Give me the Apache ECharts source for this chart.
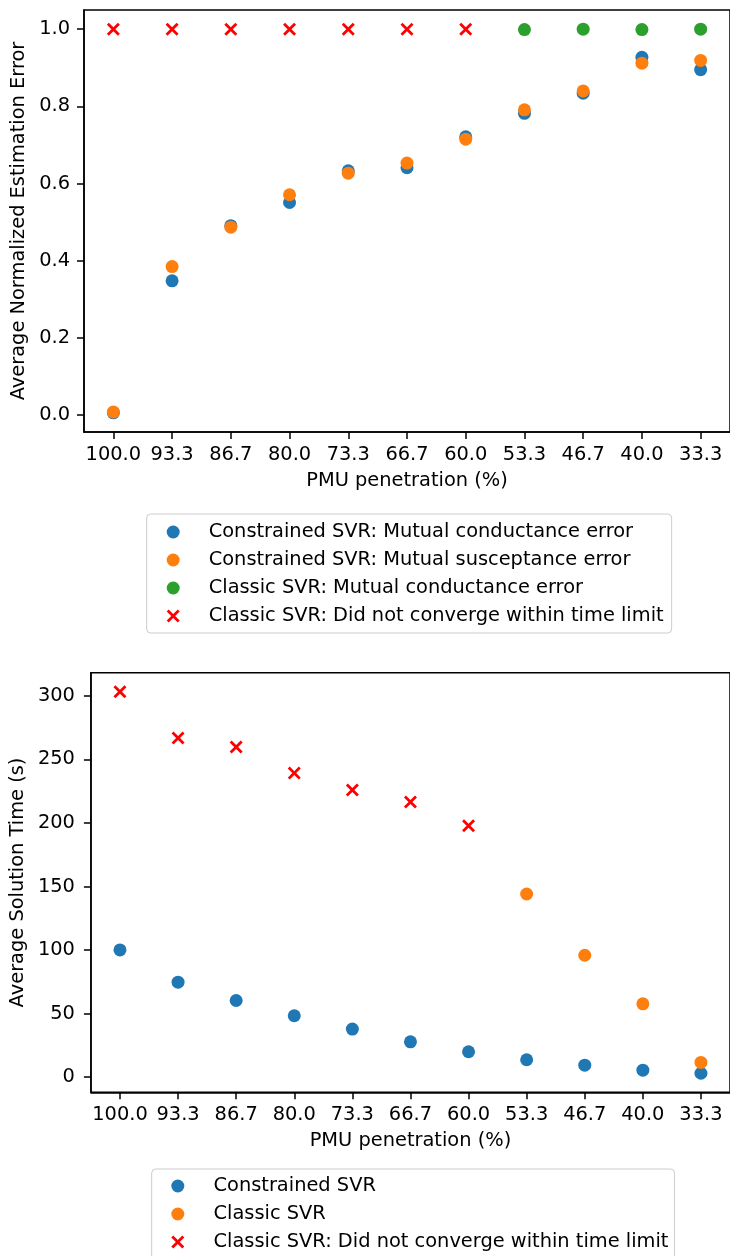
<!DOCTYPE html>
<html>
<head>
<meta charset="utf-8">
<script src="https://cdn.jsdelivr.net/npm/echarts@6/dist/echarts.min.js"></script>
<style>
  html, body { margin: 0; padding: 0; background: #fff; }
  #chart { width: 730px; height: 1256px; }
</style>
</head>
<body>
<div id="chart"></div>
<script>
// PMU penetration levels (%), shared by both panels
const categories = ['100.0', '93.3', '86.7', '80.0', '73.3', '66.7', '60.0', '53.3', '46.7', '40.0', '33.3'];

// Panel 1: average normalized estimation error
const errConstrainedG = [0.006, 0.348, 0.491, 0.551, 0.633, 0.641, 0.721, 0.782, 0.834, 0.927, 0.895];
const errConstrainedB = [0.008, 0.385, 0.487, 0.571, 0.627, 0.653, 0.715, 0.791, 0.840, 0.912, 0.919];
const errClassicG = [null, null, null, null, null, null, null, 0.999, 1.0, 0.999, 1.0];
const errClassicFail = [1.0, 1.0, 1.0, 1.0, 1.0, 1.0, 1.0, null, null, null, null];
const errTicks = [0, 0.2, 0.4, 0.6, 0.8, 1.0];

// Panel 2: average solution time (s)
const timeConstrained = [100.1, 74.7, 60.3, 48.3, 37.8, 27.8, 20.0, 13.7, 9.4, 5.5, 3.1];
const timeClassic = [null, null, null, null, null, null, null, 144.1, 95.9, 57.7, 11.6];
const timeClassicFail = [303.2, 266.8, 259.7, 239.2, 225.9, 216.5, 197.8, null, null, null, null];
const timeTicks = [0, 50, 100, 150, 200, 250, 300];

const FONT = 'DejaVu Sans';
const FS = 19.4;
const C_BLUE = '#1f77b4', C_ORANGE = '#ff7f0e', C_GREEN = '#2ca02c', C_RED = '#ff0000';
// filled "x" glyph
const X_MARK = 'path://M0,3L3,0L10,7L17,0L20,3L13,10L20,17L17,20L10,13L3,20L0,17L7,10Z';

// 5% padding around the data range, like the default plotting margins
function paddedRange(arrays) {
  const vals = [].concat(...arrays).filter(v => v !== null);
  const lo = Math.min(...vals), hi = Math.max(...vals);
  const pad = (hi - lo) * 0.05;
  return [lo - pad, hi + pad];
}
const errRange = paddedRange([errConstrainedG, errConstrainedB, errClassicG, errClassicFail]);
const timeRange = paddedRange([timeConstrained, timeClassic, timeClassicFail]);

const toData = arr => arr.map(v => (v === null ? '-' : v));

const axisLineStyle = { lineStyle: { color: '#000', width: 1.5 } };
const tickStyle = { show: true, length: 7, lineStyle: { color: '#000', width: 1.5 } };
const labelText = { color: '#000', fontFamily: FONT, fontSize: FS };

function xAxisFor(gridIndex) {
  return {
    type: 'category', gridIndex, data: categories, boundaryGap: true,
    name: 'PMU penetration (%)', nameLocation: 'middle', nameGap: 39,
    nameTextStyle: labelText,
    axisLine: Object.assign({ show: true, onZero: false }, axisLineStyle),
    axisTick: Object.assign({ alignWithLabel: true, interval: 0 }, tickStyle),
    axisLabel: Object.assign({ interval: 0, margin: 13 }, labelText),
    splitLine: { show: false }
  };
}

function yAxisFor(gridIndex, name, range, ticks, fmt, gap, margin) {
  return {
    type: 'value', gridIndex, min: range[0], max: range[1],
    name, nameLocation: 'middle', nameGap: gap, nameTextStyle: labelText,
    axisLine: Object.assign({ show: true, onZero: false }, axisLineStyle),
    axisTick: Object.assign({ customValues: ticks }, tickStyle),
    axisLabel: Object.assign({ customValues: ticks, margin, formatter: fmt }, labelText),
    splitLine: { show: false }
  };
}

function scatter(name, xi, yi, values, color, symbol) {
  return {
    type: 'scatter', name, xAxisIndex: xi, yAxisIndex: yi,
    data: toData(values), symbol: symbol || 'circle', symbolSize: 13,
    itemStyle: { color, opacity: 1 },
    emphasis: { disabled: true }, animation: false
  };
}

const legendBase = {
  orient: 'vertical', itemWidth: 20, itemHeight: 13, itemGap: 8,
  borderColor: '#cccccc', borderWidth: 1, borderRadius: 4,
  backgroundColor: '#ffffff',
  height: 140,
  textStyle: { color: '#000', fontFamily: FONT, fontSize: FS, lineHeight: 20, padding: [0, 0, 0, 20.5] },
  selectedMode: false
};

const chart = echarts.init(document.getElementById('chart'), null, { renderer: 'canvas' });
chart.setOption({
  backgroundColor: '#ffffff',
  animation: false,
  textStyle: { fontFamily: FONT },
  grid: [
    { left: 84, top: 10, right: -5, height: 422, show: true, borderColor: '#000', borderWidth: 1.5, containLabel: false },
    { left: 89.3, top: 672.7, right: -5, height: 419.6, show: true, borderColor: '#000', borderWidth: 1.5, containLabel: false }
  ],
  xAxis: [xAxisFor(0), xAxisFor(1)],
  yAxis: [
    yAxisFor(0, 'Average Normalized Estimation Error', errRange, errTicks, v => v.toFixed(1), 47, 14),
    yAxisFor(1, 'Average Solution Time (s)', timeRange, timeTicks, v => String(Math.round(v)), 52, 16)
  ],
  legend: [
    Object.assign({}, legendBase, {
      left: 146.7, top: 514,
      padding: [8, 8, 7, 20],
      data: [
        'Constrained SVR: Mutual conductance error',
        'Constrained SVR: Mutual susceptance error',
        'Classic SVR: Mutual conductance error',
        'Classic SVR: Did not converge within time limit'
      ]
    }),
    Object.assign({}, legendBase, {
      left: 151.7, top: 1169,
      padding: [7, 6, 8, 19.6],
      textStyle: Object.assign({}, legendBase.textStyle, { padding: [0, 0, 0, 20.7] }),
      data: ['Constrained SVR', 'Classic SVR', 'Classic SVR: Did not converge within time limit']
    })
  ],
  series: [
    scatter('Constrained SVR: Mutual conductance error', 0, 0, errConstrainedG, C_BLUE),
    scatter('Constrained SVR: Mutual susceptance error', 0, 0, errConstrainedB, C_ORANGE),
    scatter('Classic SVR: Mutual conductance error', 0, 0, errClassicG, C_GREEN),
    scatter('Classic SVR: Did not converge within time limit', 0, 0, errClassicFail, C_RED, X_MARK),
    scatter('Constrained SVR', 1, 1, timeConstrained, C_BLUE),
    scatter('Classic SVR', 1, 1, timeClassic, C_ORANGE),
    scatter('Classic SVR: Did not converge within time limit', 1, 1, timeClassicFail, C_RED, X_MARK)
  ]
});
</script>
</body>
</html>
